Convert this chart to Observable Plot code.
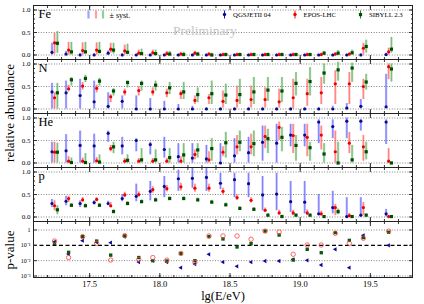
<!DOCTYPE html>
<html><head><meta charset="utf-8">
<script src="https://cdn.jsdelivr.net/npm/d3@7"></script>
<script src="https://cdn.jsdelivr.net/npm/@observablehq/plot@0.6"></script>
<style>
html,body{margin:0;padding:0;background:#fff;}
#chart{position:relative;width:424px;height:304px;overflow:hidden;background:#fff;font-family:"Liberation Serif","DejaVu Serif",serif;}
#chart svg{position:absolute;left:0;background:transparent !important;overflow:visible;}
.ov{position:absolute;font-family:"Liberation Serif",serif;color:#000;white-space:nowrap;}
</style></head><body><div id="chart"></div><script>
// ---------- data ----------
const bins = [17.25,17.35,17.45,17.55,17.65,17.75,17.85,17.95,18.05,18.15,18.25,18.35,18.45,18.55,18.65,18.75,18.85,18.95,19.05,19.15,19.25,19.35,19.45,19.63];
const models = ["QGSJETII 04","EPOS-LHC","SIBYLL 2.3"];
const species = ["Fe","N","He","p"];

// Fe
const feQ   = [.06,.02,0,0,.04,0,0,0,0,0,0,0,0,0,0,0,0,0,0,0,0,0,0,.01];
const feQlo = [0,0,0,0,0,0,0,0,0,0,0,0,0,0,0,0,0,0,0,0,0,0,0,0];
const feQhi = [.26,.08,.03,.03,.09,.03,.02,.02,.02,.02,.02,.02,.02,.02,.02,.02,.02,.02,.02,.02,.02,.02,.03,.04];
const feE   = [.27,.11,.10,.11,.13,.09,.04,.05,.03,.02,.04,.02,.01,.01,.01,.01,.01,.01,.01,.01,.02,.02,.15,.07];
const feElo = [.02,0,0,0,.04,0,0,0,0,0,0,0,0,0,0,0,0,0,0,0,0,0,0,0];
const feEhi = [.48,.28,.27,.27,.26,.22,.11,.11,.08,.06,.08,.05,.04,.04,.04,.04,.04,.04,.04,.04,.05,.05,.26,.15];
const feS   = [.26,.07,.07,.08,.11,.06,.03,.03,.02,.01,.02,0,.01,.01,.01,.01,.01,.01,.01,.04,.04,.05,.19,.13];
const feSlo = [.04,0,.02,.02,.02,.02,0,0,0,0,0,0,0,0,0,0,0,0,0,0,0,0,.04,.04];
const feShi = [.52,.28,.28,.28,.26,.24,.13,.11,.08,.06,.06,.04,.04,.04,.04,.04,.04,.04,.04,.08,.10,.11,.33,.39];
// N
const nQ   = [.38,.36,.30,.16,.06,.17,0,0,0,0,0,0,0,0,0,0,0,0,0,0,0,.02,.06,.05];
const nQlo = [0,0,0,0,0,0,0,0,0,0,0,0,0,0,0,0,0,0,0,0,0,0,0,0];
const nQhi = [.57,.62,.66,.62,.36,.29,.29,.23,.17,.10,.06,.03,.03,.03,.03,.03,.03,.03,.03,.03,.06,.12,.21,.77];
const nE   = [.25,.45,.51,.46,.27,.38,.41,.38,.36,.34,.19,.25,.17,.19,.21,.21,.16,.25,.34,.36,.56,.56,.50,.94];
const nElo = [0,.38,.42,.36,.14,.29,.29,.29,.25,.21,.10,.10,.02,.02,.02,.02,.02,0,.06,.10,.10,.10,.21,.65];
const nEhi = [.36,.53,.59,.53,.32,.44,.50,.47,.44,.40,.29,.32,.40,.51,.51,.47,.44,.66,.66,.70,.85,.81,.66,1.0];
const nS   = [.36,.65,.68,.62,.40,.59,.57,.53,.47,.38,.32,.34,.31,.32,.38,.42,.40,.57,.61,.80,.87,.91,.60,.89];
const nSlo = [0,.51,.59,.51,.29,.47,.40,.40,.32,.21,.14,.10,.10,.10,.10,.17,.14,.29,.29,.55,.62,.59,.42,.60];
const nShi = [.57,.70,.75,.68,.45,.62,.62,.62,.59,.59,.47,.62,.55,.66,.70,.70,.70,.81,.92,1.0,1.04,1.02,.77,1.0];
// He
const heQ   = [.25,.27,.39,.38,.66,.38,.50,.41,.30,.14,.11,.09,0,.16,.23,.46,.44,.62,.62,.91,.81,.93,.93,.91];
const heQlo = [0,0,0,0,.46,.18,.25,.18,.11,0,0,0,0,0,0,.04,0,.36,.36,.43,.54,.54,.71,.41];
const heQhi = [.46,.63,.71,.64,.71,.57,.54,.46,.57,.43,.43,.39,.43,.54,.57,.82,.86,.86,.86,.96,.96,1.0,.96,.96];
const heE   = [.24,.04,.04,.05,.32,.04,.04,.04,.04,.04,.19,.07,.24,.36,.36,.59,.79,.61,.57,.62,.25,.44,.36,.04];
const heElo = [0,0,0,0,.25,0,0,0,0,0,.07,0,.14,.18,.18,.32,.50,.21,.14,.29,0,.21,.04,0];
const heEhi = [.46,.14,.11,.12,.39,.10,.10,.10,.10,.14,.29,.25,.36,.61,.64,.82,.91,.86,.86,.82,.71,.68,.61,.32];
const heS   = [.24,.01,.01,.02,.36,.06,.07,.07,.12,.18,.29,.32,.45,.46,.43,.54,.57,.39,.34,.20,0,.07,.25,0];
const heSlo = [0,0,0,0,.21,0,0,0,0,0,.11,.04,.11,.25,.14,.21,.25,.04,.04,0,0,0,.07,0];
const heShi = [.44,.11,.21,.18,.46,.18,.32,.29,.32,.43,.43,.54,.68,.71,.71,.75,.79,.61,.46,.43,.46,.39,.46,.02];
// p
const pQ   = [.30,.35,.30,.32,.30,.41,.46,.57,.68,.85,.86,.88,.75,.83,.74,.49,.51,.34,.33,.07,.21,.01,.04,.07];
const pQlo = [.21,.25,.21,.27,.25,.34,.34,.36,.43,.57,.64,.57,.61,.43,.43,.14,.14,.10,.07,.03,.07,0,0,0];
const pQhi = [.39,.46,.36,.36,.35,.50,.73,.79,.90,1.04,1.08,1.08,.97,.97,.97,.90,.97,.79,.79,.50,.57,.43,.43,.17];
const pE   = [.25,.41,.38,.39,.25,.49,.50,.61,.63,.67,.64,.64,.57,.43,.37,.15,.09,.09,.09,.07,.21,.03,.21,.01];
const pElo = [.14,.32,.33,.34,.20,.43,.44,.53,.56,.58,.55,.55,.50,.37,.31,.10,.04,.03,.03,.02,.03,0,.03,0];
const pEhi = [.36,.46,.43,.43,.32,.55,.56,.67,.70,.75,.73,.73,.64,.49,.43,.20,.15,.15,.16,.13,.28,.08,.32,.03];
const pS   = [.16,.26,.25,.26,.12,.30,.34,.38,.41,.41,.38,.33,.27,.19,.17,.04,.01,.04,.04,.01,.12,.01,.04,.01];
const pSlo = [.05,.22,.21,.22,.08,.26,.31,.34,.37,.37,.34,.29,.24,.16,.14,.01,0,.01,.01,0,.05,0,.01,0];
const pShi = [.25,.30,.29,.30,.16,.34,.38,.42,.45,.45,.42,.37,.31,.23,.21,.07,.04,.07,.07,.03,.18,.03,.07,.03];
// p-values
const pvQ = [0.17,0.027,0.20,0.16,0.15,0.37,0.0081,0.010,0.0081,0.0035,0.006,0.026,0.0081,0.0043,0.0081,0.0095,0.0095,0.012,0.0105,0.0052,0.055,0.0035,0.45,0.10];
const pvE = [0.19,0.016,0.37,0.135,0.011,0.43,0.012,0.016,0.011,0.03,0.0078,0.41,0.41,0.41,0.25,0.85,0.74,0.026,0.105,0.105,0.60,0.135,0.29,0.85];
const pvS = [0.135,0.035,0.37,0.19,0.023,0.41,0.016,0.010,0.0095,0.029,0.010,0.37,0.26,0.078,0.13,0.85,0.47,0.011,0.055,0.033,0.68,0.21,0.32,0.71];

const pvTicks = [1, 0.1, 0.01, 0.001];
const pvTickLabels = ["1", "10\u207B\u00B9", "10\u207B\u00B2", "10\u207B\u00B3"];
const xMajor = [17.5, 18.0, 18.5, 19.0, 19.5];

// ---------- layout / style ----------
const W = 424, ML = 33, MR = 12;
const xDomain = [17.1, 19.8];
const serif = "Liberation Serif, Times New Roman, serif";
const styles = [
  {dx: -0.018, mark: "#0a0a8a", stat: "#1010ff", syst: "#8a8aff", sym: "circle"},
  {dx: 0.0,    mark: "#ee0000", stat: "#ff1010", syst: "#ff8a8a", sym: "circle"},
  {dx: 0.02,   mark: "#004d00", stat: "#1a8a1a", syst: "#7ac27a", sym: "square"}
];
const series = {
  Fe: [[feQ,feQlo,feQhi],[feE,feElo,feEhi],[feS,feSlo,feShi]],
  N:  [[nQ,nQlo,nQhi],[nE,nElo,nEhi],[nS,nSlo,nShi]],
  He: [[heQ,heQlo,heQhi],[heE,heElo,heEhi],[heS,heSlo,heShi]],
  p:  [[pQ,pQlo,pQhi],[pE,pElo,pEhi],[pS,pSlo,pShi]]
};
const xMinor = d3.range(172, 198).map(d => d / 10);
const yMinor = d3.range(0, 11).map(d => d / 10);
const chart = document.getElementById("chart");
const blank = () => "";
const tops = [5, 59, 113, 167];
const pvLabel = d => pvTickLabels[pvTicks.findIndex(t => Math.abs(Math.log10(t) - Math.log10(d)) < 0.01)] ?? "";

function frameAxes() {
  return [
    Plot.axisX(xMinor, {anchor: "bottom", tickSize: -2, tickFormat: blank, label: null, stroke: "#333"}),
    Plot.axisX(xMajor, {anchor: "bottom", tickSize: -4, tickFormat: blank, label: null, stroke: "#333"}),
    Plot.axisX(xMinor, {anchor: "top", tickSize: -2, tickFormat: blank, label: null, stroke: "#333"}),
    Plot.axisX(xMajor, {anchor: "top", tickSize: -4, tickFormat: blank, label: null, stroke: "#333"})
  ];
}

species.forEach((sp, si) => {
  const marks = [
    Plot.gridY([0, 0.5, 1], {stroke: "#777", strokeOpacity: 0.9, strokeDasharray: "1,1.6"}),
    Plot.axisY([0, 0.5, 1], {anchor: "left", tickSize: 0, tickPadding: 3, tickFormat: d3.format(".1f"), fontSize: 7, fontFamily: serif, label: null}),
    Plot.axisY(yMinor, {anchor: "left", tickSize: -2, tickFormat: blank, label: null, stroke: "#333"}),
    Plot.axisY([0, 0.5, 1], {anchor: "left", tickSize: -4, tickFormat: blank, label: null, stroke: "#333"}),
    Plot.axisY(yMinor, {anchor: "right", tickSize: -2, tickFormat: blank, label: null, stroke: "#333"}),
    Plot.axisY([0, 0.5, 1], {anchor: "right", tickSize: -4, tickFormat: blank, label: null, stroke: "#333"}),
    ...frameAxes()
  ];
  series[sp].forEach(([v, lo, hi], mi) => {
    const st = styles[mi];
    const data = bins.map((b, i) => ({x: b + st.dx, v: v[i], lo: lo[i], hi: Math.min(hi[i], 1.09)}));
    marks.push(Plot.ruleX(data, {x: "x", y1: "lo", y2: "hi", stroke: st.syst, strokeWidth: 2.3, strokeOpacity: 0.6}));
    marks.push(Plot.ruleX(data, {x: "x", y1: "lo", y2: "hi", stroke: st.stat, strokeWidth: 0.8, strokeOpacity: 0.45}));
    marks.push(Plot.dot(data, {x: "x", y: "v", r: st.sym === "square" ? 1.8 : 1.6, fill: st.mark, symbol: st.sym}));
  });
  marks.push(Plot.text([sp], {frameAnchor: "top-left", dx: 5, dy: 4, fontSize: 12.5, fontFamily: serif, lineAnchor: "top", textAnchor: "start", fill: "#000"}));
  marks.push(Plot.frame({stroke: "#222"}));
  const svg = Plot.plot({
    width: W, height: 56, marginLeft: ML, marginRight: MR, marginTop: 1, marginBottom: 1,
    style: {background: "transparent", overflow: "visible"},
    x: {domain: xDomain},
    y: {domain: [-0.1, 1.1]},
    marks
  });
  svg.style.top = (tops[si] - 1) + "px";
  chart.appendChild(svg);
});

// p-value panel
{
  const marks = [
    Plot.gridY([1, 0.01, 0.001], {stroke: "#777", strokeOpacity: 0.9, strokeDasharray: "1,1.6"}),
    Plot.ruleY([0.1], {stroke: "#000", strokeWidth: 1.3, strokeDasharray: "4,2.5"}),
    Plot.axisY(pvTicks, {anchor: "left", tickSize: 0, tickPadding: 3, tickFormat: pvLabel, fontSize: 6, fontFamily: serif, label: null}),
    Plot.axisY(pvTicks, {anchor: "left", tickSize: -4, tickFormat: blank, label: null, stroke: "#333"}),
    Plot.axisY(pvTicks, {anchor: "right", tickSize: -4, tickFormat: blank, label: null, stroke: "#333"}),
    Plot.axisX(xMajor, {anchor: "bottom", tickSize: 0, tickPadding: 3, tickFormat: d3.format(".1f"), fontSize: 8.5, fontFamily: serif, label: null}),
    ...frameAxes(),
    Plot.dot(bins.map((b, i) => ({x: b, p: pvQ[i]})), {x: "x", y: "p", symbol: "triangle", rotate: -90, r: 1.6, fill: "#0a0a9a"}),
    Plot.dot(bins.map((b, i) => ({x: b, p: pvS[i]})), {x: "x", y: "p", symbol: "square", r: 1.9, fill: "#0a5a0a"}),
    Plot.dot(bins.map((b, i) => ({x: b, p: pvE[i]})), {x: "x", y: "p", symbol: "circle", r: 2.2, fill: "none", stroke: "#ff4040", strokeWidth: 0.8}),
    Plot.text(["lg(E/eV)"], {frameAnchor: "bottom", dy: 18, lineAnchor: "middle", fontSize: 12.5, fontFamily: serif, fill: "#000"}),
    Plot.frame({stroke: "#222"})
  ];
  const svg = Plot.plot({
    width: W, height: 84, marginLeft: ML, marginRight: MR, marginTop: 1, marginBottom: 27,
    style: {background: "transparent", overflow: "visible"},
    x: {domain: xDomain},
    y: {type: "log", domain: [Math.pow(10, -3.098), Math.pow(10, 0.554)]},
    marks
  });
  svg.style.top = "220px";
  chart.appendChild(svg);
}

// y titles
function vlabel(text, cx, cy, size) {
  const d = document.createElement("div");
  d.className = "ov";
  d.textContent = text;
  d.style.fontSize = size + "px";
  d.style.left = cx + "px";
  d.style.top = cy + "px";
  d.style.transform = "translate(-50%,-50%) rotate(-90deg)";
  chart.appendChild(d);
}
vlabel("relative abundance", 10, 113, 13);
vlabel("p-value", 10, 250, 13);

// legend + watermark overlay
const ns = "http://www.w3.org/2000/svg";
const ov = document.createElementNS(ns, "svg");
ov.setAttribute("width", W); ov.setAttribute("height", 304);
ov.style.top = "0px"; ov.style.pointerEvents = "none";
function el(tag, attrs, text) {
  const e = document.createElementNS(ns, tag);
  for (const k in attrs) e.setAttribute(k, attrs[k]);
  if (text) e.textContent = text;
  ov.appendChild(e); return e;
}
el("text", {x: 173, y: 34.5, "font-size": 13.5, "font-family": serif, fill: "#c4c4c4"}, "Preliminary");
[88.5, 96, 103].forEach((x, i) => {
  el("rect", {x: x - 1.1, y: 10.5, width: 2.2, height: 8, fill: styles[i].syst, "fill-opacity": 0.8});
});
el("text", {x: 109.5, y: 17.5, "font-size": 8, "font-family": serif, fill: "#000"}, "\u00B1 syst.");
[[224.5, 233], [295, 303.5], [360.5, 369]].forEach(([mx, tx], i) => {
  el("line", {x1: mx, x2: mx, y1: 10.5, y2: 18.5, stroke: styles[i].stat, "stroke-width": 1});
  if (styles[i].sym === "square") el("rect", {x: mx - 1.6, y: 13, width: 3.2, height: 3.2, fill: styles[i].mark});
  else el("circle", {cx: mx, cy: 14.5, r: 1.7, fill: styles[i].mark});
  el("text", {x: tx, y: 17, "font-size": 6.8, "font-family": serif, fill: "#000"}, models[i]);
});
chart.appendChild(ov);
</script></body></html>
